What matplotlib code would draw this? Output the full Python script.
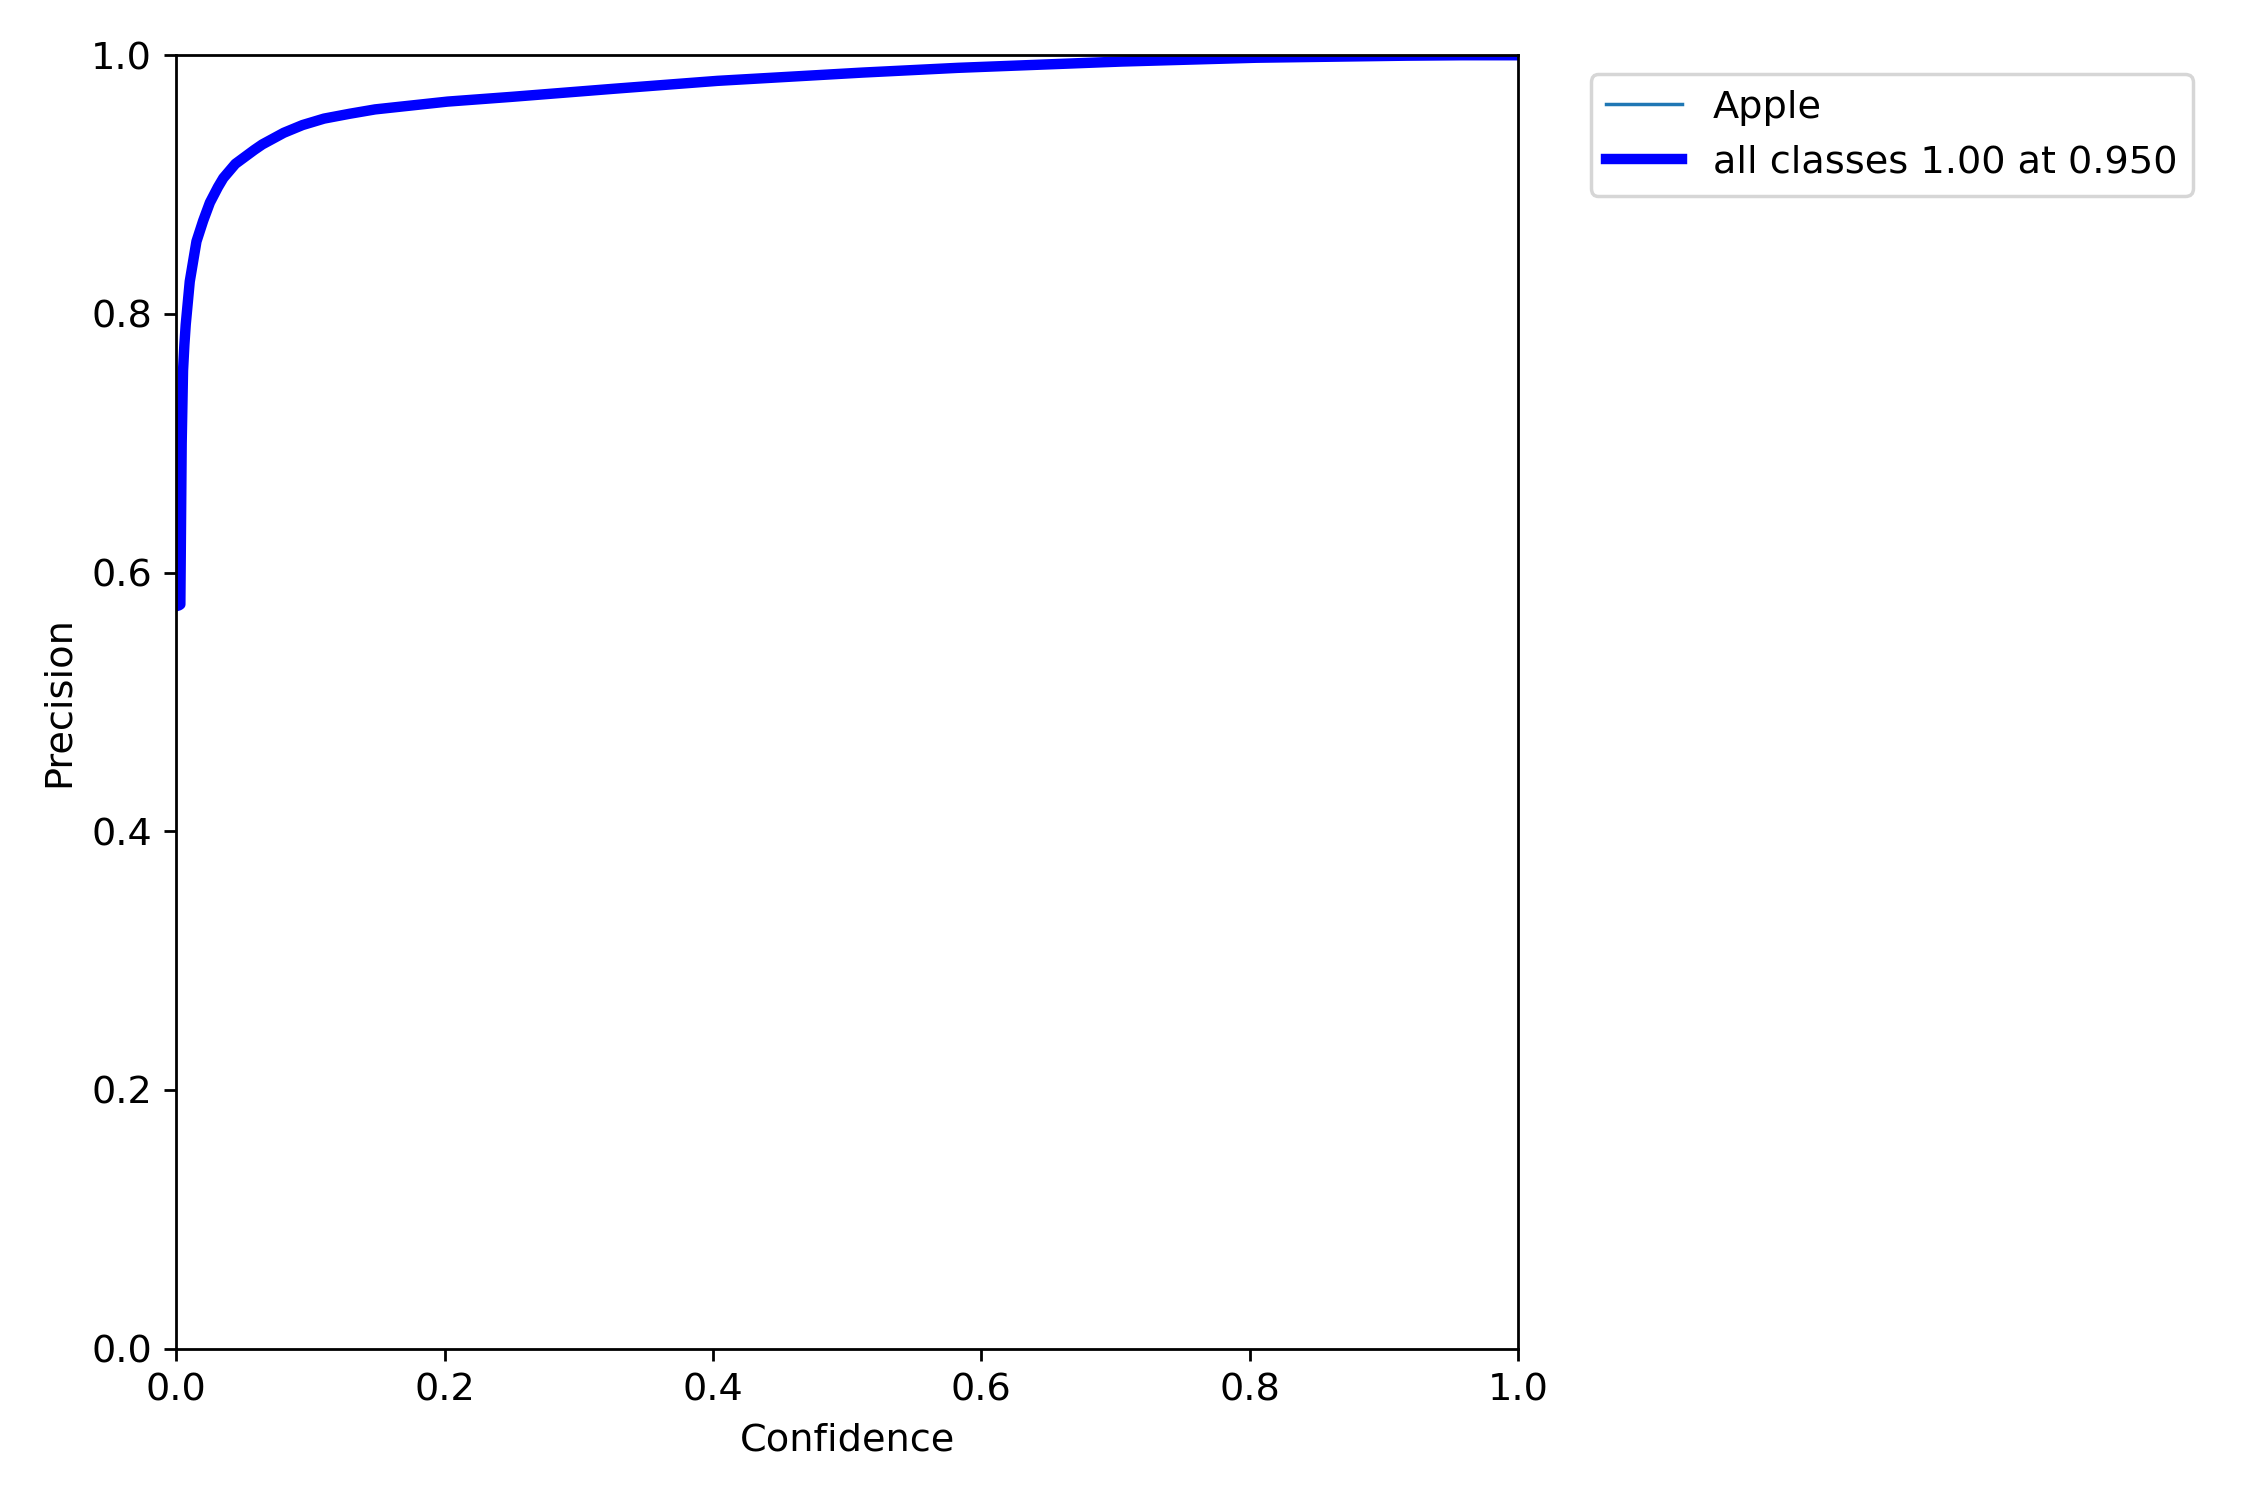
import numpy as np
import matplotlib
matplotlib.use('Agg')
from matplotlib import pyplot as plt

plt.rcParams['font.size'] = 11

# Precision vs confidence
conf = [0.0, 0.003, 0.0035, 0.004, 0.0047, 0.0065, 0.010, 0.015, 0.020, 0.025,
        0.031, 0.035, 0.044, 0.057, 0.064, 0.080, 0.094, 0.110, 0.125, 0.147,
        0.20, 0.24, 0.30, 0.35, 0.40, 0.45, 0.50, 0.576, 0.65, 0.70,
        0.80, 0.90, 0.95, 1.0]
precision = [0.574, 0.575, 0.64, 0.70, 0.75, 0.786, 0.825, 0.856, 0.872, 0.886,
             0.898, 0.905, 0.916, 0.926, 0.931, 0.940, 0.946, 0.951, 0.954, 0.958,
             0.964, 0.967, 0.972, 0.976, 0.980, 0.983, 0.986, 0.990, 0.993, 0.995,
             0.998, 0.9995, 1.0, 1.0]
class_name = 'Apple'
best_p, best_conf = 1.00, 0.950

px = np.linspace(0, 1, 1000)
py = np.interp(px, conf, precision)

fig, ax = plt.subplots(1, 1, figsize=(9, 6), tight_layout=True)
ax.plot(px, py, linewidth=1, label=class_name)
ax.plot(px, py, linewidth=3, color='blue', label=f'all classes {best_p:.2f} at {best_conf:.3f}')
ax.set_xlabel('Confidence')
ax.set_ylabel('Precision')
ax.set_xlim(0, 1)
ax.set_ylim(0, 1)
ax.legend(bbox_to_anchor=(1.04, 1), loc='upper left')
fig.savefig('out.png', dpi=250)
plt.close(fig)
